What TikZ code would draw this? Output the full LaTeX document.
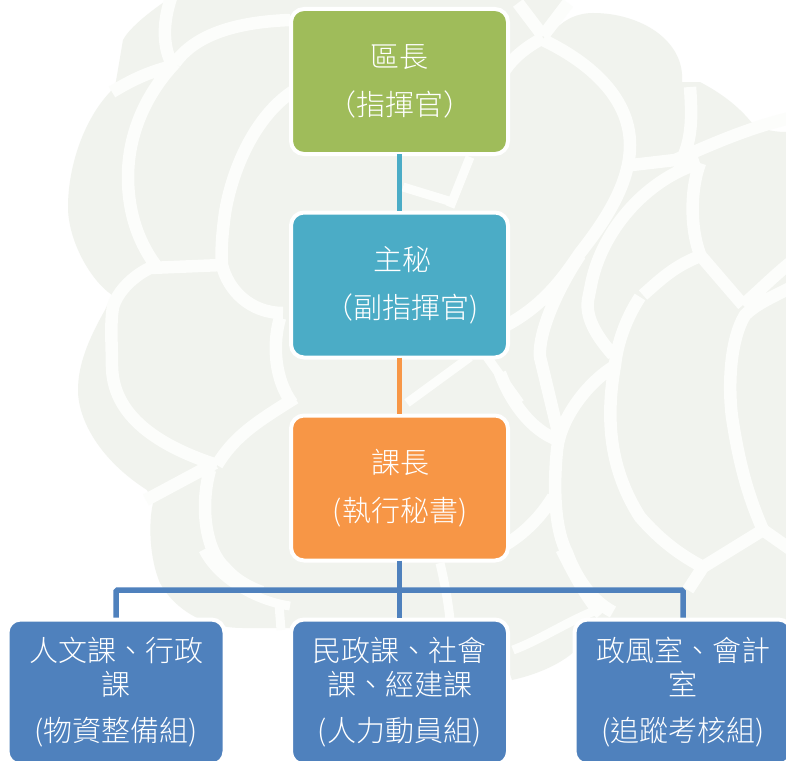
\documentclass[tikz,border=0pt]{standalone}
\usepackage{fontspec}
\newfontfamily\cjk[UprightFont=* Light]{Noto Sans CJK TC}
\definecolor{bgpetal}{HTML}{F1F3EE}
\definecolor{bgseam}{HTML}{FCFDFB}
\definecolor{cgreen}{HTML}{9FBC5A}
\definecolor{cteal}{HTML}{4BACC6}
\definecolor{corange}{HTML}{F79646}
\definecolor{cblue}{HTML}{4F81BD}
\tikzset{
  x=1pt,y=-1pt,
  seam/.style={draw=bgseam,line width=12.5pt,line cap=butt,line join=round},
  seamthin/.style={seam,line width=9pt},
  orgbox/.style={rounded corners=13pt,draw=white,line width=4pt,minimum width=217pt,minimum height=145pt,
    inner sep=0pt},
  headtext/.style={text=white,inner sep=0pt,align=center,font=\cjk\fontsize{29pt}{48pt}\selectfont},
  leafbox/.style={orgbox,fill=cblue},
  leaftext/.style={text=white,font=\cjk\fontsize{29pt}{34pt}\selectfont,inner sep=0pt},
  link/.style={line width=5.5pt},
}
\begin{document}
\begin{tikzpicture}
\useasboundingbox (0,0) rectangle (786,760);
\fill[white] (0,0) rectangle (786,760);
% background silhouette
\fill[bgpetal] (167,0) .. controls (145,15) and (128,30) .. (123,40) -- (115,87)
  .. controls (85,115) and (68,165) .. (68,207) .. controls (68,240) and (90,280) .. (112,295)
  -- (105,310) .. controls (88,340) and (78,365) .. (78,390) .. controls (78,420) and (100,460) .. (147,490)
  -- (153,503) .. controls (148,525) and (150,560) .. (160,583)
  .. controls (175,610) and (205,628) .. (243,628) -- (293,628) -- (293,660) -- (505,660) -- (512,680)
  .. controls (535,675) and (560,665) .. (576,650)
  -- (600,622) -- (786,622) -- (786,132) .. controls (770,132) and (760,128) .. (752,123) .. controls (735,102) and (715,90) .. (700,82)
  -- (682,82) .. controls (685,40) and (640,13) .. (593,13) .. controls (575,13) and (560,22) .. (553,33)
  -- (563,0) -- cycle;
% seams
\draw[seam]
 (172,-5) .. controls (163,20) and (162,45) .. (172,64)
 (112,92) .. controls (135,78) and (150,72) .. (172,66)
 (175,63) .. controls (195,35) and (235,22) .. (290,20)
 (175,63) .. controls (145,95) and (128,135) .. (128,177) .. controls (128,215) and (140,245) .. (157,267)
 (222,265) -- (150,268) .. controls (135,275) and (118,290) .. (113,307) .. controls (110,325) and (112,345) .. (112,367) .. controls (113,405) and (140,440) .. (217,465)
 (295,90) .. controls (255,115) and (232,170) .. (225,213) .. controls (222,235) and (221,250) .. (222,265)
 .. controls (228,290) and (250,313) .. (283,313)
 (217,465) .. controls (235,435) and (260,420) .. (295,398)
 (215,463) -- (146,500)
 (210,470) .. controls (200,505) and (205,550) .. (225,568) .. controls (235,580) and (250,588) .. (262,592)
 (280,318) .. controls (272,345) and (275,380) .. (292,403)
 (505,70) .. controls (515,55) and (530,45) .. (543,38)
 (518,3) -- (543,36) (568,3) -- (543,36)
 (543,40) .. controls (585,60) and (630,95) .. (630,145) .. controls (630,180) and (610,215) .. (580,253) .. controls (565,275) and (545,305) .. (505,326)
 (690,87) .. controls (692,115) and (692,135) .. (684,155)
 (632,165) -- (675,160) .. controls (700,150) and (740,130) .. (790,118)
 (700,163) .. controls (650,178) and (605,225) .. (592,280) -- (588,300) .. controls (585,320) and (600,340) .. (613,355)
 (700,163) .. controls (690,190) and (690,230) .. (701,257)
 (703,255) .. controls (675,265) and (660,280) .. (643,295)
 (700,255) -- (743,305)
 (743,305) .. controls (760,290) and (775,275) .. (790,263)
 (790,288) .. controls (770,298) and (755,305) .. (745,315) .. controls (730,340) and (728,385) .. (732,417) .. controls (740,470) and (750,500) .. (763,530)
 (763,530) -- (790,549)
 (763,530) -- (703,567)
 (640,297) .. controls (625,320) and (617,345) .. (615,365) .. controls (605,420) and (610,470) .. (640,517) .. controls (660,540) and (680,555) .. (703,567)
 (703,567) -- (688,590)
 (613,367) .. controls (585,385) and (560,420) .. (557,450) .. controls (553,490) and (555,530) .. (567,553) .. controls (575,575) and (590,600) .. (613,612)
 (553,497) .. controls (545,510) and (530,530) .. (505,545)
 (580,255) .. controls (560,285) and (538,330) .. (540,357) -- (558,432)
 (500,373) .. controls (510,400) and (530,430) .. (558,440);
\draw[seamthin]
 (560,550) .. controls (570,570) and (585,600) .. (600,615)
 (513,650) .. controls (540,640) and (570,620) .. (597,610)
 (203,550) .. controls (215,575) and (250,600) .. (290,606)
 (279,604) -- (281,630)
 (440,563) .. controls (444,580) and (448,600) .. (450,620)
 (470,157) -- (450,207)
 (403,187) -- (452,202)
 (407,403) -- (470,357)
 (487,357) -- (520,403);
% boxes
\node[orgbox,fill=cgreen] (a) at (399.5,81.5) {};
\node[orgbox,fill=cteal] (b) at (399.5,285) {};
\node[orgbox,fill=corange] (c) at (399.5,488) {};
\node[leafbox] (d) at (116,692) {};
\node[leafbox] (e) at (399.5,692) {};
\node[leafbox] (f) at (683,692) {};
\draw[cteal,link,shorten <=-2pt] (a.south) -- (b.north);
\draw[corange,link,shorten <=-2pt] (b.south) -- (c.north);
\draw[cblue,link,shorten <=-2pt] (c.south) -- (e.north);
\draw[cblue,link,rounded corners=1.5pt] (c.south |- 0,590) -- (d.north |- 0,590) -- (d.north);
\draw[cblue,link,rounded corners=1.5pt] (c.south |- 0,590) -- (f.north |- 0,590) -- (f.north);
\node[headtext] (at) at (399.5,81) {區長\\（指揮官）};
\node[headtext] (bt) at (402,285) {主秘\\（副指揮官)};
\node[headtext] (ct) at (400,488.5) {課長\\(執行秘書)};
\node[leaftext] (d1) at (116,650) {人文課、行政};
\node[leaftext] (d2) at (116,684) {課};
\node[leaftext] (d3) at (116,732) {(物資整備組)};
\node[leaftext] (e1) at (399.5,650) {民政課、社會};
\node[leaftext] (e2) at (399.5,684) {課、經建課};
\node[leaftext] (e3) at (399.5,732) {(人力動員組)};
\node[leaftext] (f1) at (683,650) {政風室、會計};
\node[leaftext] (f2) at (683,684) {室};
\node[leaftext] (f3) at (683,732) {(追蹤考核組)};
\end{tikzpicture}
\end{document}
